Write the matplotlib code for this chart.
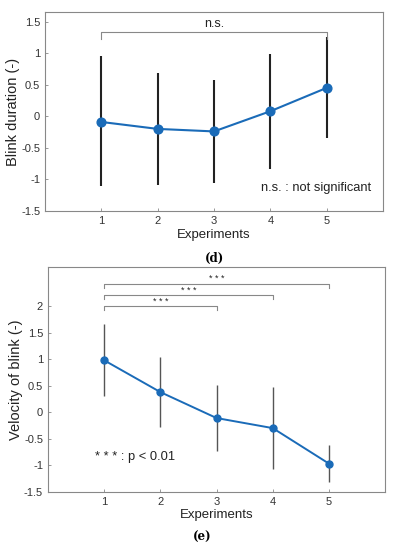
import matplotlib
matplotlib.use('Agg')
import matplotlib.pyplot as plt

experiments = [1, 2, 3, 4, 5]

duration_mean = [-0.09, -0.20, -0.24, 0.08, 0.45]
duration_upper = [0.95, 0.69, 0.57, 0.99, 1.26]
duration_lower = [-1.11, -1.09, -1.05, -0.83, -0.34]

velocity_mean = [0.98, 0.38, -0.11, -0.30, -0.97]
velocity_upper = [1.66, 1.04, 0.51, 0.48, -0.61]
velocity_lower = [0.30, -0.27, -0.73, -1.08, -1.32]

# significance brackets for (e): (start, end, height)
sig_pairs = [(1, 3, 2.00), (1, 4, 2.21), (1, 5, 2.42)]

blue = '#1a6bb8'
plt.rcParams['font.family'] = ['Liberation Sans', 'DejaVu Sans']

fig = plt.figure(figsize=(3.93, 5.5), dpi=100)
ax1 = fig.add_axes([0.1145, 0.6164, 0.8601, 0.3616])
ax2 = fig.add_axes([0.122, 0.106, 0.858, 0.4085])


def style(ax, yticks, ylabels):
    ax.set_xlim(0, 6)
    ax.set_xticks(experiments)
    ax.set_yticks(yticks)
    ax.set_yticklabels(ylabels)
    ax.tick_params(direction='in', length=2, width=0.6, colors='#888888',
                   labelcolor='#333333', labelsize=8)
    for s in ax.spines.values():
        s.set_color('#888888')
        s.set_linewidth(0.8)
    ax.set_xlabel('Experiments', fontsize=9.5, color='#222222', labelpad=2)


# (d)
err1 = [[m - lo for m, lo in zip(duration_mean, duration_lower)],
        [hi - m for m, hi in zip(duration_mean, duration_upper)]]
ax1.errorbar(experiments, duration_mean, yerr=err1, fmt='none', ecolor='#222222',
             elinewidth=1.5, capsize=0, zorder=1)
ax1.plot(experiments, duration_mean, '-o', color=blue, lw=1.5, ms=6.3, zorder=2)
ax1.set_ylim(-1.5, 1.65)
style(ax1, [-1.5, -1, -0.5, 0, 0.5, 1, 1.5],
      ['-1.5', '-1', '-0.5', '0', '0.5', '1', '1.5'])
ax1.set_ylabel('Blink duration (-)', fontsize=10.5, color='#222222', labelpad=1)
ax1.plot([1, 1, 5, 5], [1.22, 1.33, 1.33, 1.22], color='#888888', lw=0.8)
ax1.text(3, 1.36, 'n.s.', ha='center', va='bottom', fontsize=9, color='#222222')
ax1.text(4.82, -1.13, 'n.s. : not significant', ha='center', va='center',
         fontsize=9.3, color='#222222')
fig.text(0.547, 1 - 258 / 550, '(d)', ha='center', va='center', fontsize=8.5,
         fontweight='bold', family='DejaVu Serif')

# (e)
err2 = [[m - lo for m, lo in zip(velocity_mean, velocity_lower)],
        [hi - m for m, hi in zip(velocity_mean, velocity_upper)]]
ax2.errorbar(experiments, velocity_mean, yerr=err2, fmt='none', ecolor='#555555',
             elinewidth=1.0, capsize=0, zorder=1)
ax2.plot(experiments, velocity_mean, '-o', color=blue, lw=1.4, ms=5, zorder=2)
ax2.set_ylim(-1.5, 2.74)
style(ax2, [-1.5, -1, -0.5, 0, 0.5, 1, 1.5, 2],
      ['-1.5', '-1', '-0.5', '0', '0.5', '1', '1.5', '2'])
ax2.set_ylabel('Velocity of blink (-)', fontsize=10.5, color='#222222', labelpad=1)
for x0, x1, h in sig_pairs:
    ax2.plot([x0, x0, x1, x1], [h - 0.08, h, h, h - 0.08], color='#888888', lw=0.8)
    ax2.text((x0 + x1) / 2, h + 0.01, '* * *', ha='center', va='bottom',
             fontsize=6.5, color='#222222')
ax2.text(0.83, -0.84, '* * * : p < 0.01', ha='left', va='center', fontsize=9.3,
         color='#222222')
fig.text(0.514, 1 - 537 / 550, '(e)', ha='center', va='center', fontsize=8.5,
         fontweight='bold', family='DejaVu Serif')

fig.savefig('out.png', dpi=100)
